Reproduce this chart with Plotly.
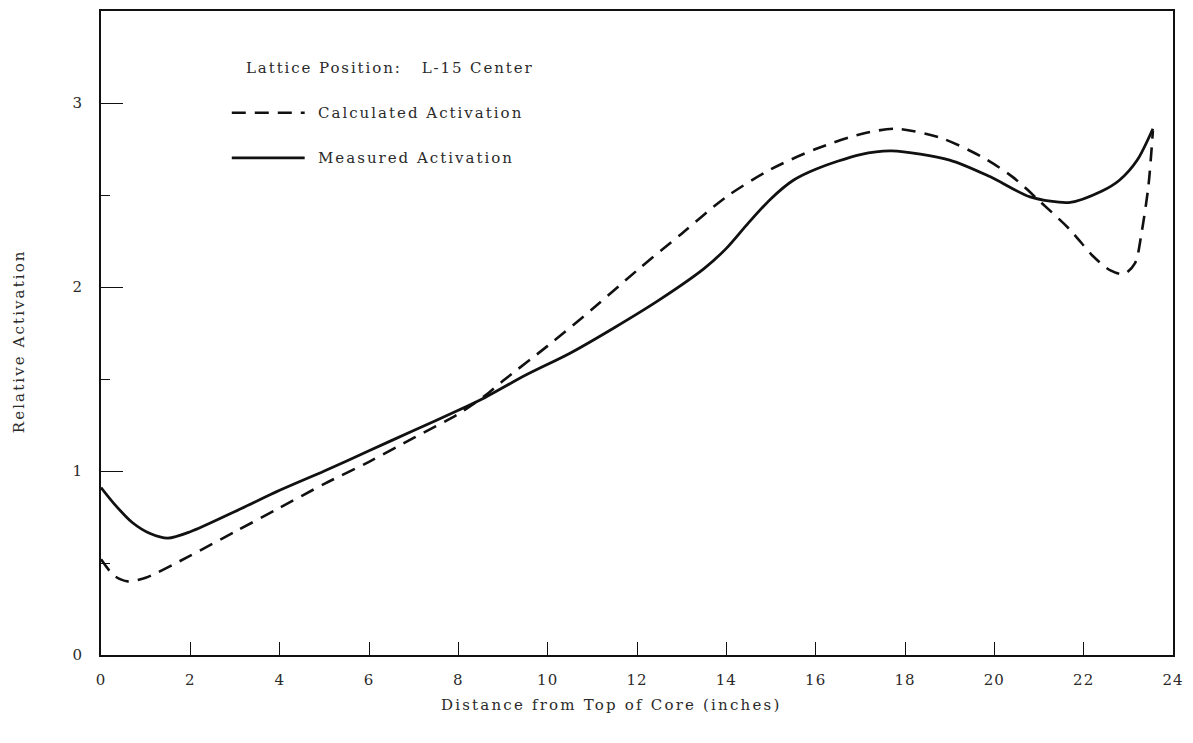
import plotly.graph_objects as go

# Measured activation along the L-15 centre position
measured_x = [0.0, 0.3, 0.7, 1.1, 1.5, 2.0, 3.0, 4.0, 5.0, 6.0, 7.0, 8.0, 8.6, 9.5,
              10.5, 11.5, 12.5, 13.5, 14.0, 14.5, 15.0, 15.5, 16.0, 17.0, 17.7,
              19.0, 19.9, 20.8, 21.7, 22.4, 22.8, 23.2, 23.55]
measured_y = [0.91, 0.82, 0.72, 0.66, 0.635, 0.67, 0.78, 0.895, 1.0, 1.11, 1.22, 1.33, 1.40, 1.52,
              1.64, 1.78, 1.93, 2.10, 2.21, 2.35, 2.48, 2.58, 2.64, 2.72, 2.74,
              2.69, 2.60, 2.49, 2.46, 2.52, 2.58, 2.69, 2.86]

# Calculated activation
calc_x = [0.0, 0.3, 0.6, 1.0, 2.0, 3.0, 4.0, 5.0, 6.0, 7.0, 8.0, 8.6, 9.0, 10.0,
          11.0, 12.0, 13.0, 14.0, 15.0, 16.0, 17.0, 17.8, 18.8, 19.7, 20.4, 21.0,
          21.7, 22.2, 22.6, 22.9, 23.15, 23.3, 23.45, 23.55]
calc_y = [0.52, 0.43, 0.40, 0.42, 0.54, 0.67, 0.80, 0.93, 1.05, 1.18, 1.31, 1.41, 1.49, 1.68,
          1.88, 2.09, 2.29, 2.49, 2.64, 2.75, 2.83, 2.86, 2.81, 2.71, 2.60, 2.47,
          2.31, 2.17, 2.09, 2.07, 2.13, 2.30, 2.55, 2.85]

x_ticks = [0, 2, 4, 6, 8, 10, 12, 14, 16, 18, 20, 22, 24]
y_ticks = [0, 1, 2, 3]
y_minor = [0.5, 1.5, 2.5]

SERIF = "DejaVu Serif"
TEXT = "#2a2a2a"
INK = "#111111"


def spaced(s, px=2):
    """Typewriter-style tracking for the chart's text."""
    return f'<span style="letter-spacing:{px}px">{s}</span>'


fig = go.Figure()
fig.add_trace(go.Scatter(x=calc_x, y=calc_y, mode="lines", name="Calculated Activation",
                         line=dict(color=INK, width=2.6, dash="14px,9px", shape="spline", smoothing=0.8)))
fig.add_trace(go.Scatter(x=measured_x, y=measured_y, mode="lines", name="Measured Activation",
                         line=dict(color=INK, width=2.8, shape="spline", smoothing=0.8)))

fig.update_layout(
    width=1193, height=743,
    margin=dict(l=101, r=9, t=10, b=88),
    paper_bgcolor="white", plot_bgcolor="white",
    showlegend=False,
    font=dict(family=SERIF, size=15, color=TEXT),
)

fig.update_xaxes(
    range=[0, 24], tickvals=x_ticks, ticktext=[spaced(str(v), 1) for v in x_ticks],
    ticks="inside", ticklen=13, tickwidth=1.4, tickcolor=INK,
    showline=True, linewidth=2, linecolor=INK, mirror=True,
    showgrid=False, zeroline=False, ticklabelstandoff=10,
    tickfont=dict(family=SERIF, size=15, color=TEXT),
)
fig.update_yaxes(
    range=[0, 3.5], tickvals=y_ticks, ticktext=[str(v) for v in y_ticks],
    ticks="inside", ticklen=22, tickwidth=1.4, tickcolor=INK,
    minor=dict(tickvals=y_minor, ticks="inside", ticklen=9, tickwidth=1.4, tickcolor=INK, showgrid=False),
    showline=True, linewidth=2, linecolor=INK, mirror=True,
    showgrid=False, zeroline=False, ticklabelstandoff=14,
    tickfont=dict(family=SERIF, size=15, color=TEXT),
)

# Axis titles
fig.add_annotation(text=spaced("Distance from Top of Core (inches)", 2.2), xref="paper", yref="paper",
                   x=0.476, y=-0.078, xanchor="center", yanchor="middle", showarrow=False,
                   font=dict(family=SERIF, size=15, color=TEXT))
fig.add_annotation(text=spaced("Relative Activation", 2.1), xref="paper", yref="paper",
                   x=-0.077, y=0.488, xanchor="center", yanchor="middle", textangle=-90,
                   showarrow=False, font=dict(family=SERIF, size=15, color=TEXT))

# Key block in the upper left
fig.add_annotation(text=spaced("Lattice Position:&nbsp;&nbsp; L-15 Center", 1.9), xref="paper", yref="paper",
                   x=0.133, y=0.912, xanchor="left", yanchor="middle", showarrow=False,
                   font=dict(family=SERIF, size=15, color=TEXT))
key_rows = [("Calculated Activation", "14px,9px", 0.842), ("Measured Activation", "solid", 0.772)]
for label, dash, yk in key_rows:
    fig.add_shape(type="line", xref="paper", yref="paper", x0=0.122, x1=0.190, y0=yk, y1=yk,
                  line=dict(color=INK, width=2.6, dash=dash))
    fig.add_annotation(text=spaced(label, 2), xref="paper", yref="paper", x=0.2004, y=yk,
                       xanchor="left", yanchor="middle", showarrow=False,
                       font=dict(family=SERIF, size=15, color=TEXT))

fig.write_html("out.html")
